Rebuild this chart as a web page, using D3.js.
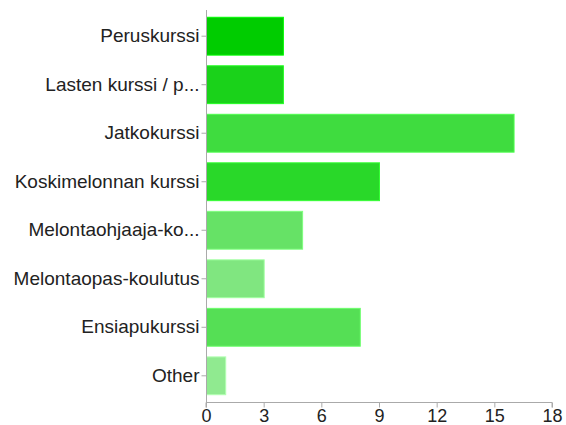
<!DOCTYPE html>
<html>
<head>
<meta charset="utf-8">
<script src="https://cdn.jsdelivr.net/npm/d3@7"></script>
<style>
  body { margin: 0; background: #fff; }
  text { font-family: "Liberation Sans", Arial, Helvetica, sans-serif; fill: #222; }
</style>
</head>
<body>
<div id="chart"></div>
<script>
// answer options, as shown on the y axis
const categories = [
	'Peruskurssi',
	'Lasten kurssi / p...',
	'Jatkokurssi',
	'Koskimelonnan kurssi',
	'Melontaohjaaja-ko...',
	'Melontaopas-koulutus',
	'Ensiapukurssi',
	'Other'
];
const counts = [4, 4, 16, 9, 5, 3, 8, 1];
const barColors = ['#00cc00', '#1ad21a', '#3fdc3f', '#29d829', '#66e266', '#80e680', '#55df55', '#90ea90'];
const xTicks = [0, 3, 6, 9, 12, 15, 18];

const width = 566,
	height = 425,
	margin = {top: 10, right: 14, bottom: 23, left: 206};

const svg = d3.select('#chart').append('svg')
	.attr('width', width)
	.attr('height', height);

const x = d3.scaleLinear()
	.domain([0, 18])
	.range([margin.left, width - margin.right]);

const y = d3.scaleBand()
	.domain(categories)
	.range([margin.top, height - margin.bottom])
	.paddingInner(0.22)
	.paddingOuter(0.15);

// bars
svg.append('g')
	.selectAll('rect')
	.data(counts)
	.join('rect')
	.attr('x', x(0) + 0.5)
	.attr('y', (d, i) => y(categories[i]))
	.attr('width', d => x(d) - x(0))
	.attr('height', y.bandwidth())
	.style('fill', (d, i) => barColors[i])
	.style('stroke', (d, i) => d3.color(barColors[i]).brighter(0.6))
	.style('stroke-width', 1);

// x axis
const xAxis = svg.append('g')
	.attr('transform', `translate(0,${height - margin.bottom + 0.5})`)
	.call(d3.axisBottom(x).tickValues(xTicks).tickSize(5).tickPadding(2));

// y axis
const yAxis = svg.append('g')
	.attr('transform', `translate(${margin.left + 0.5},0)`)
	.call(d3.axisLeft(y).tickSize(5).tickPadding(2));

[xAxis, yAxis].forEach(a => {
	a.select('.domain').style('stroke', '#aaa');
	a.selectAll('.tick line').style('stroke', '#aaa');
	a.selectAll('.tick text')
		.style('font-family', '"Liberation Sans", Arial, sans-serif')
		.style('fill', '#222');
});
yAxis.selectAll('.tick text').style('font-size', '19px');
xAxis.selectAll('.tick text').style('font-size', '18px');
yAxis.select('.domain').attr('d', `M0,${margin.top}V${height - margin.bottom}`);
xAxis.select('.domain').attr('d', `M${x(0)},5V0H${x(18)}V5`);
</script>
</body>
</html>
